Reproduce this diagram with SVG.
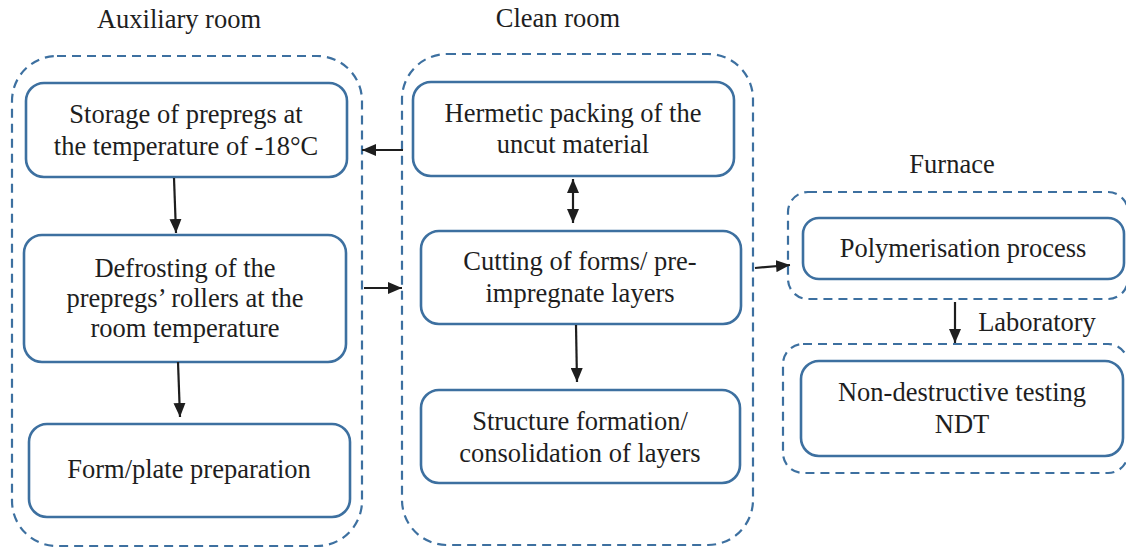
<svg xmlns="http://www.w3.org/2000/svg" width="1126" height="548" viewBox="0 0 1126 548" style="font-family:'Liberation Serif','Times New Roman',serif">
<style>
.room{fill:none;stroke:#3d70a0;stroke-width:2.2;stroke-dasharray:9 6}
.box{fill:#fff;stroke:#3d70a0;stroke-width:2.6}
.t{font-family:'Liberation Serif','Times New Roman',serif;font-size:26.5px;fill:#1e1e1e;text-anchor:middle}
.c{stroke:#1e1e1e;stroke-width:2.2;fill:none}
</style>
<defs>
<marker id="ah" viewBox="0 0 14 12" refX="14" refY="6" markerWidth="14" markerHeight="12" markerUnits="userSpaceOnUse" orient="auto-start-reverse">
<path d="M0,0 L14,6 L0,12 Z" fill="#1e1e1e"/>
</marker>
</defs>
<rect fill="#fff" width="1126" height="548"/>
<g id="rooms">
<g id="auxiliary-room"><rect class="room" x="12" y="56" width="350" height="490" rx="45"/><text class="t" x="179" y="28">Auxiliary room</text></g>
<g id="clean-room"><rect class="room" x="402" y="54" width="351" height="491" rx="45"/><text class="t" x="558" y="27">Clean room</text></g>
<g id="furnace"><rect class="room" x="788" y="192" width="340" height="107" rx="20"/><text class="t" x="952" y="173">Furnace</text></g>
<g id="laboratory"><rect class="room" x="783" y="344" width="345" height="129" rx="20"/><text class="t" x="1037" y="331">Laboratory</text></g>
</g>
<g id="storage"><rect class="box" x="26" y="83" width="321" height="94" rx="18"/><text class="t" x="186" y="123">Storage of prepregs at</text><text class="t" x="186" y="155">the temperature of -18°C</text></g>
<g id="defrosting"><rect class="box" x="24" y="235" width="322" height="127" rx="18"/><text class="t" x="185" y="277">Defrosting of the</text><text class="t" x="185" y="307">prepregs’ rollers at the</text><text class="t" x="185" y="337">room temperature</text></g>
<g id="form-prep"><rect class="box" x="29" y="424" width="321" height="93" rx="18"/><text class="t" x="189" y="478">Form/plate preparation</text></g>
<g id="hermetic"><rect class="box" x="413" y="82" width="321" height="94" rx="18"/><text class="t" x="573" y="122">Hermetic packing of the</text><text class="t" x="573" y="153">uncut material</text></g>
<g id="cutting"><rect class="box" x="421" y="231" width="320" height="93" rx="18"/><text class="t" x="580" y="270">Cutting of forms/ pre-</text><text class="t" x="580" y="302">impregnate layers</text></g>
<g id="structure"><rect class="box" x="421" y="390" width="319" height="93" rx="18"/><text class="t" x="580" y="430">Structure formation/</text><text class="t" x="580" y="462">consolidation of layers</text></g>
<g id="polymerisation"><rect class="box" x="803" y="218" width="321" height="61" rx="16"/><text class="t" x="963" y="257">Polymerisation process</text></g>
<g id="ndt"><rect class="box" x="801" y="361" width="322" height="95" rx="18"/><text class="t" x="962" y="401">Non-destructive testing</text><text class="t" x="962" y="433">NDT</text></g>
<g id="connectors">
<path class="c" d="M174,178 L176,233" marker-end="url(#ah)"/>
<path class="c" d="M178,362 L180,417" marker-end="url(#ah)"/>
<path class="c" d="M403,150 L362,150" marker-end="url(#ah)"/>
<path class="c" d="M364,288 L402,288" marker-end="url(#ah)"/>
<path class="c" d="M573,179 L573,223" marker-start="url(#ah)" marker-end="url(#ah)"/>
<path class="c" d="M576,325 L577,382" marker-end="url(#ah)"/>
<path class="c" d="M755,268 L790,265" marker-end="url(#ah)"/>
<path class="c" d="M955,302 L955,343" marker-end="url(#ah)"/>
</g>
</svg>
